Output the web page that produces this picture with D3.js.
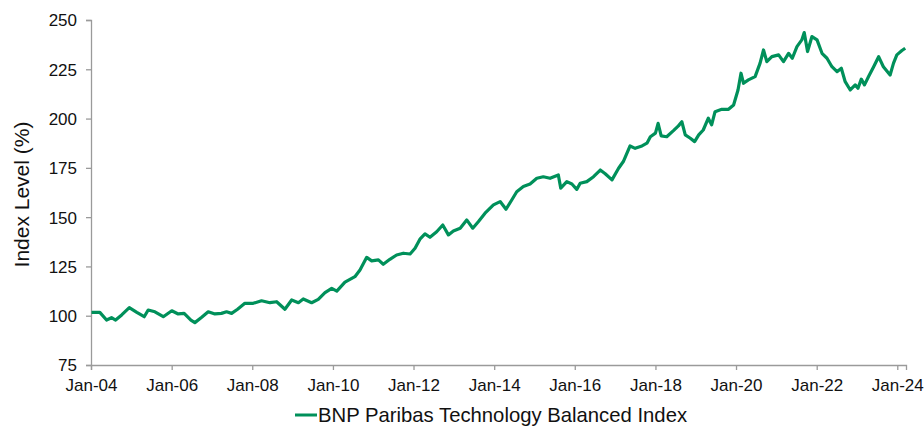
<!DOCTYPE html>
<html>
<head>
<meta charset="utf-8">
<script src="https://cdn.jsdelivr.net/npm/d3@7"></script>
<style>
  body { margin: 0; background: #fff; }
  svg { display: block; font-family: "Liberation Sans", Arial, sans-serif; }
</style>
</head>
<body>
<div id="container"></div>
<script>
// index level readings (dates and values)
const dates = [
  "2004-01-06", "2004-03-21", "2004-05-21", "2004-07-05", "2004-08-11", "2004-10-05", "2004-12-13",
  "2005-02-19", "2005-04-27", "2005-06-02", "2005-08-02", "2005-10-17", "2006-01-02", "2006-03-01",
  "2006-04-24", "2006-06-24", "2006-07-30", "2006-09-30", "2006-11-28", "2007-01-28", "2007-03-28",
  "2007-05-13", "2007-06-28", "2007-08-21", "2007-10-26", "2008-01-10", "2008-03-25", "2008-06-09",
  "2008-08-09", "2008-10-23", "2008-12-23", "2009-02-22", "2009-04-07", "2009-06-22", "2009-08-21",
  "2009-10-21", "2009-12-21", "2010-02-05", "2010-04-20", "2010-07-19", "2010-09-03", "2010-11-03",
  "2010-12-18", "2011-02-17", "2011-04-02", "2011-06-01", "2011-08-01", "2011-10-01", "2011-12-01",
  "2012-01-15", "2012-02-28", "2012-04-14", "2012-05-29", "2012-07-29", "2012-09-22", "2012-11-12",
  "2012-12-27", "2013-02-27", "2013-04-27", "2013-06-21", "2013-08-10", "2013-10-10", "2013-12-25",
  "2014-02-24", "2014-04-18", "2014-06-09", "2014-07-24", "2014-09-22", "2014-11-22", "2015-01-22",
  "2015-03-22", "2015-05-22", "2015-08-05", "2015-08-27", "2015-10-21", "2015-12-06", "2016-01-19",
  "2016-02-19", "2016-04-19", "2016-06-19", "2016-08-19", "2016-10-03", "2016-12-03", "2017-02-01",
  "2017-03-16", "2017-05-16", "2017-07-01", "2017-09-01", "2017-10-16", "2017-11-16", "2018-01-01",
  "2018-01-25", "2018-02-22", "2018-04-13", "2018-06-13", "2018-07-28", "2018-08-28", "2018-09-28",
  "2018-11-13", "2018-12-22", "2019-01-28", "2019-03-10", "2019-04-25", "2019-05-25", "2019-06-25",
  "2019-08-25", "2019-10-25", "2019-12-10", "2020-01-19", "2020-02-15", "2020-03-09", "2020-04-22",
  "2020-06-22", "2020-08-06", "2020-09-06", "2020-10-06", "2020-11-21", "2021-01-21", "2021-03-06",
  "2021-04-21", "2021-05-25", "2021-07-06", "2021-08-19", "2021-09-10", "2021-10-10", "2021-11-19",
  "2022-01-04", "2022-02-18", "2022-04-04", "2022-05-19", "2022-07-04", "2022-08-12", "2022-09-16",
  "2022-11-01", "2022-12-16", "2023-01-10", "2023-02-09", "2023-03-10", "2023-04-16", "2023-06-01",
  "2023-07-16", "2023-08-28", "2023-10-28", "2023-11-28", "2023-12-28", "2024-02-12", "2024-03-13"
];
const values = [
  101.7, 101.7, 97.8, 99.0, 97.8, 100.4, 104.1,
  101.7, 99.5, 102.9, 102.0, 99.5, 102.5, 100.9,
  101.2, 97.8, 96.5, 99.2, 102.0, 100.9, 101.2,
  102.0, 101.2, 103.3, 106.3, 106.3, 107.6, 106.6,
  107.1, 103.3, 108.0, 106.6, 108.5, 106.6, 108.3,
  111.7, 113.9, 112.5, 117.0, 119.8, 123.2, 129.6,
  127.8, 128.3, 126.1, 128.6, 130.8, 131.7, 131.3,
  134.2, 138.8, 141.5, 139.8, 142.6, 146.0, 141.0,
  143.0, 144.4, 148.6, 144.4, 147.7, 152.0, 156.2,
  157.9, 154.0, 158.7, 162.9, 165.5, 166.8, 169.7,
  170.5, 169.7, 171.4, 164.7, 168.0, 166.8, 164.1,
  167.2, 168.0, 170.5, 173.9, 172.0, 168.9, 174.8,
  178.2, 186.1, 184.9, 186.1, 187.5, 190.8, 192.6,
  197.6, 191.2, 190.8, 193.9, 196.3, 198.4, 191.7,
  190.0, 188.3, 191.7, 194.2, 200.2, 196.8, 203.5,
  204.7, 204.7, 206.9, 214.5, 223.0, 217.9, 219.6,
  221.3, 228.1, 234.8, 228.9, 231.4, 232.3, 228.9,
  233.1, 230.6, 236.5, 239.9, 243.6, 234.0, 241.6,
  239.9, 233.1, 230.6, 226.3, 223.8, 225.5, 218.7,
  214.5, 217.1, 215.4, 220.0, 217.1, 221.3, 226.3,
  231.4, 226.3, 222.1, 228.1, 232.3, 234.5, 235.7
];
const yTicks = [75, 100, 125, 150, 175, 200, 225, 250];
const xTickDates = ["2004-01-01", "2006-01-01", "2008-01-01", "2010-01-01", "2012-01-01",
  "2014-01-01", "2016-01-01", "2018-01-01", "2020-01-01", "2022-01-01", "2024-01-01"];
const seriesName = "BNP Paribas Technology Balanced Index";

const width = 924;
const height = 430;
const margin = { top: 20, right: 18, bottom: 65, left: 91 };
const lineColor = "#00905a";
const axisColor = "#9a9a9a";

const parse = d3.timeParse("%Y-%m-%d");
const data = dates.map((d, i) => ({ date: parse(d), value: values[i] }));

const x = d3.scaleTime()
    .domain([parse("2004-01-01"), parse("2024-03-20")])
    .range([margin.left, width - margin.right]);

const y = d3.scaleLinear()
    .domain([75, 250])
    .range([height - margin.bottom, margin.top]);

const svg = d3.select("#container")
    .append("svg")
    .attr("width", width)
    .attr("height", height)
    .attr("viewBox", [0, 0, width, height]);

// x axis
const xAxis = svg.append("g")
    .attr("transform", `translate(0,${height - margin.bottom})`)
    .call(d3.axisBottom(x)
        .tickValues(xTickDates.map(parse))
        .tickFormat(d3.timeFormat("%b-%y"))
        .tickSizeOuter(0)
        .tickSize(5)
        .tickPadding(9));

// y axis
const yAxis = svg.append("g")
    .attr("transform", `translate(${margin.left},0)`)
    .call(d3.axisLeft(y)
        .tickValues(yTicks)
        .tickSizeOuter(0)
        .tickSize(5)
        .tickPadding(9));

[xAxis, yAxis].forEach(g => {
    g.select(".domain").attr("stroke", axisColor).attr("stroke-width", 1.3);
    g.selectAll(".tick line").attr("stroke", axisColor).attr("stroke-width", 1.3);
    g.selectAll(".tick text")
        .attr("fill", "#111")
        .attr("font-size", 17)
        .attr("font-family", "Liberation Sans, Arial, sans-serif");
});
yAxis.selectAll(".tick text").attr("dy", "0.35em");

// axis title
svg.append("text")
    .attr("transform", `translate(29,${(margin.top + height - margin.bottom) / 2 + 2}) rotate(-90)`)
    .attr("text-anchor", "middle")
    .attr("font-size", 21)
    .attr("fill", "#111")
    .text("Index Level (%)");

// the index line
const line = d3.line()
    .x(d => x(d.date))
    .y(d => y(d.value));

svg.append("path")
    .datum(data)
    .attr("fill", "none")
    .attr("stroke", lineColor)
    .attr("stroke-width", 3.2)
    .attr("stroke-linejoin", "round")
    .attr("d", line);

// legend
const legend = svg.append("g").attr("transform", "translate(295,415)");
legend.append("line")
    .attr("x1", 0).attr("x2", 22)
    .attr("stroke", lineColor)
    .attr("stroke-width", 3);
legend.append("text")
    .attr("x", 23)
    .attr("y", 7)
    .attr("font-size", 20.3)
    .attr("fill", "#111")
    .text(seriesName);
</script>
</body>
</html>
